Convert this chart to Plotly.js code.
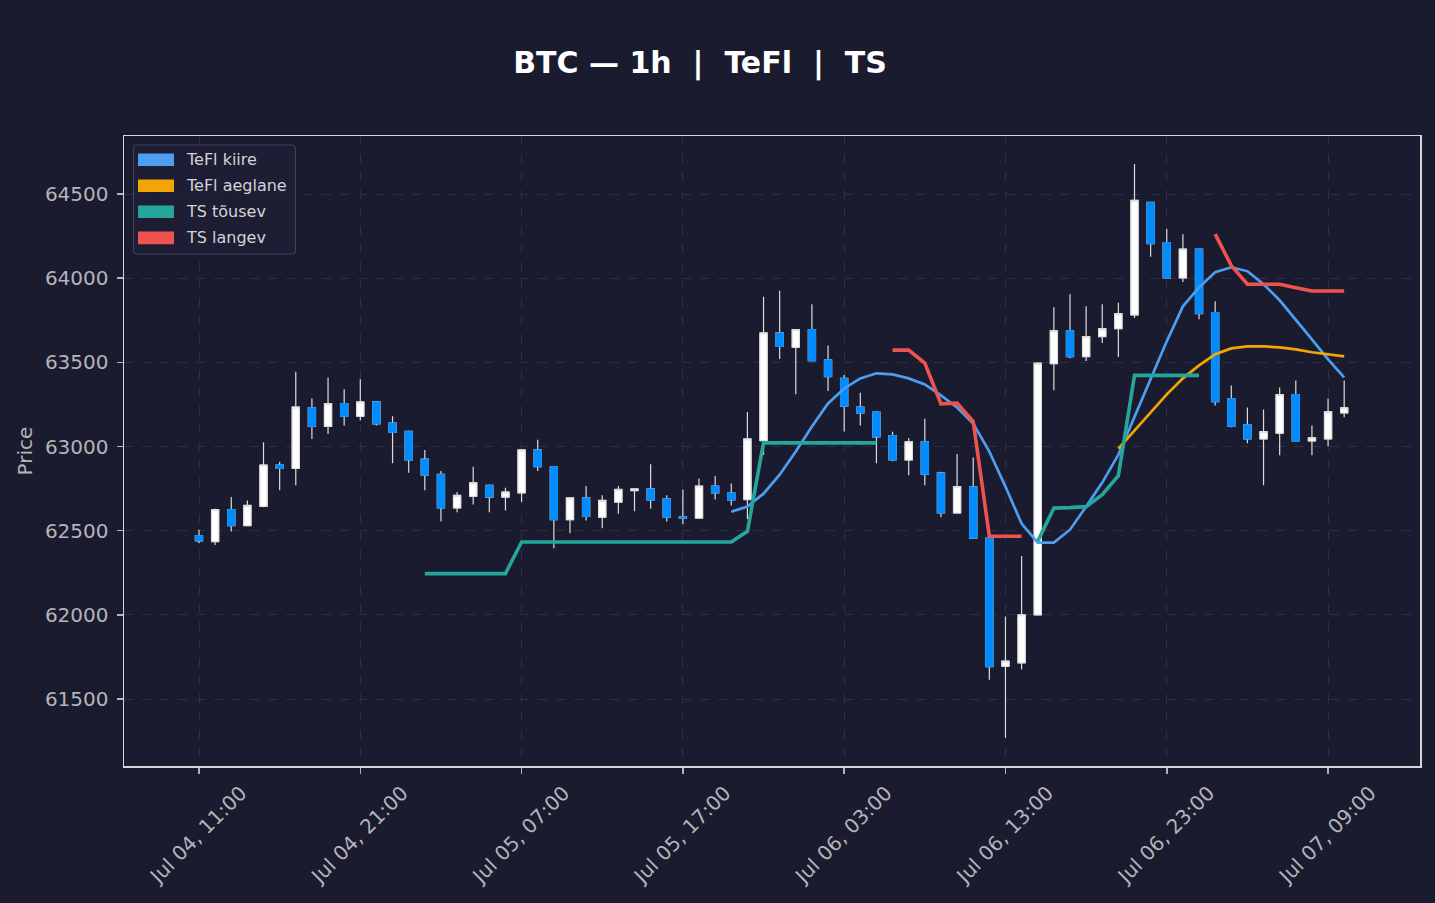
<!DOCTYPE html>
<html>
<head>
<meta charset="utf-8">
<script src="https://cdn.plot.ly/plotly-3.0.1.min.js"></script>
<style>
  html, body { margin: 0; padding: 0; background: #1a1b2e; }
  #chart { width: 1435px; height: 903px; }
</style>
</head>
<body>
<div id="chart"></div>
<script>
// ---- data (hourly candles, Jul 04 11:00 -> Jul 07 10:00) ----
const startTime = '2024-07-04T11:00:00Z';
const candleCount = 72;

const openP = [
  62470, 62435, 62625, 62530, 62645, 62890, 62870, 63230, 63120, 63255,
  63180, 63265, 63140, 63090, 62925, 62835, 62635, 62705, 62770, 62700,
  62725, 62980, 62880, 62565, 62695, 62580, 62670, 62738, 62748, 62690,
  62582, 62575, 62765, 62725, 62685, 63035, 63675, 63590, 63695, 63515,
  63405, 63235, 63205, 63065, 62920, 63028, 62843, 62605, 62760, 62456,
  61695, 61715, 62000, 63492, 63688, 63534, 63653, 63700, 63782, 64451,
  64212, 64002, 64173, 63796, 63284, 63129, 63045, 63079, 63309, 63033,
  63045, 63200
];
const highP = [
  62505, 62630, 62700, 62680, 63025, 62910, 63445, 63285, 63410, 63340,
  63400, 63268, 63180, 63095, 62980, 62855, 62730, 62880, 62775, 62755,
  62985, 63040, 62880, 62695, 62765, 62710, 62765, 62750, 62895, 62710,
  62745, 62810, 62825, 62780, 63205, 63890, 63925, 63695, 63845, 63600,
  63425, 63320, 63210, 63088, 63050, 63165, 62850, 62955, 62935, 62456,
  61990, 62350, 63500, 63827, 63905, 63833, 63845, 63855, 64678, 64455,
  64292, 64262, 64175, 63863, 63363, 63232, 63220, 63351, 63393, 63125,
  63286, 63393
];
const lowP = [
  62425, 62415, 62495, 62528, 62640, 62740, 62770, 63045, 63075, 63125,
  63155, 63125, 62900, 62845, 62740, 62555, 62610, 62655, 62610, 62620,
  62670, 62855, 62395, 62485, 62560, 62515, 62600, 62615, 62630, 62555,
  62538, 62573, 62685, 62650, 62570, 62950, 63520, 63310, 63505, 63330,
  63090, 63125, 62900, 62912, 62830, 62770, 62580, 62605, 62456, 61615,
  61270, 61675, 62000, 63335, 63525, 63508, 63615, 63532, 63764, 64127,
  64000, 63978, 63756, 63244, 63115, 63020, 62770, 62948, 63030, 62948,
  63002, 63174
];
const closeP = [
  62440, 62625, 62530, 62650, 62890, 62870, 63235, 63120, 63255, 63180,
  63265, 63135, 63085, 62920, 62830, 62635, 62710, 62785, 62700, 62730,
  62980, 62880, 62565, 62695, 62585, 62680, 62745, 62748, 62683, 62580,
  62575, 62765, 62725, 62683, 63045, 63675, 63595, 63695, 63510, 63415,
  63240, 63200, 63058, 62920, 63028, 62835, 62605, 62762, 62456, 61692,
  61725, 62000, 63495, 63688, 63534, 63653, 63700, 63790, 64463, 64205,
  64002, 64173, 63790, 63266, 63121, 63045, 63089, 63309, 63033, 63052,
  63206, 63230
];

const N = null;
const tefiFast = [
  N, N, N, N, N, N, N, N, N, N, N, N, N, N, N, N, N, N, N, N,
  N, N, N, N, N, N, N, N, N, N, N, N, N, 62613, 62643, 62720, 62833, 62970, 63119, 63256,
  63345, 63405, 63435, 63429, 63405, 63369, 63304, 63232, 63137, 62970,
  62762, 62542, 62429, 62429, 62506, 62643, 62786, 62952, 63179, 63399,
  63625, 63833, 63946, 64036, 64065, 64042, 63964, 63869, 63756, 63637,
  63518, 63411
];
const tefiSlow = [
  N, N, N, N, N, N, N, N, N, N, N, N, N, N, N, N, N, N, N, N,
  N, N, N, N, N, N, N, N, N, N, N, N, N, N, N, N, N, N, N, N,
  N, N, N, N, N, N, N, N, N, N, N, N, N, N, N, N, N, 62988, 63095, 63202,
  63310, 63405, 63482, 63548, 63583, 63595, 63595, 63589, 63577, 63560,
  63548, 63536
];
const tsRising = [
  N, N, N, N, N, N, N, N, N, N, N, N, N, N, 62245, 62245, 62245, 62245, 62245, 62245,
  62433, 62433, 62433, 62433, 62433, 62433, 62433, 62433, 62433, 62433,
  62433, 62433, 62433, 62433, 62496, 63022, 63022, 63022, 63022, 63022,
  63022, 63022, 63022, N, N, N, N, N, N, N,
  N, N, 62438, 62634, 62637, 62643, 62714, 62827, 63423, 63423,
  63423, 63423, 63423, N, N, N, N, N, N, N,
  N, N
];
const tsFalling = [
  N, N, N, N, N, N, N, N, N, N, N, N, N, N, N, N, N, N, N, N,
  N, N, N, N, N, N, N, N, N, N, N, N, N, N, N, N, N, N, N, N,
  N, N, N, 63573, 63573, 63496, 63254, 63258, 63149, 62467,
  62467, 62467, N, N, N, N, N, N, N, N,
  N, N, N, 64262, 64075, 63964, 63964, 63964, 63944, 63924,
  63924, 63924
];

const tickTimes = ['2024-07-04 11:00', '2024-07-04 21:00', '2024-07-05 07:00', '2024-07-05 17:00',
                   '2024-07-06 03:00', '2024-07-06 13:00', '2024-07-06 23:00', '2024-07-07 09:00'];
const tickLabels = ['Jul 04, 11:00', 'Jul 04, 21:00', 'Jul 05, 07:00', 'Jul 05, 17:00',
                    'Jul 06, 03:00', 'Jul 06, 13:00', 'Jul 06, 23:00', 'Jul 07, 09:00'];
const yTicks = [61500, 62000, 62500, 63000, 63500, 64000, 64500];

const seriesNames = ['TeFl kiire', 'TeFl aeglane', 'TS tõusev', 'TS langev'];
const seriesColors = ['#4d9df0', '#f2a603', '#26a69a', '#ef5350'];

// ---- build time axis ----
function fmt(d) {
  const p = n => String(n).padStart(2, '0');
  return d.getUTCFullYear() + '-' + p(d.getUTCMonth() + 1) + '-' + p(d.getUTCDate()) + ' ' +
         p(d.getUTCHours()) + ':' + p(d.getUTCMinutes());
}
const t0 = new Date(startTime).getTime();
const times = [];
for (let i = 0; i < candleCount; i++) times.push(fmt(new Date(t0 + i * 3600000)));

const bodyHigh = openP.map((o, i) => Math.max(o, closeP[i]));
const bodyLow = openP.map((o, i) => Math.min(o, closeP[i]));

const UP = '#ffffff', UPLINE = '#dcdcdc', DOWN = '#008cff', WICK = '#dcdcdc';

const traces = [
  {
    type: 'candlestick', x: times, open: openP, high: highP, low: lowP, close: closeP,
    increasing: { line: { color: UPLINE, width: 1.2 }, fillcolor: UP },
    decreasing: { line: { color: WICK, width: 1.2 }, fillcolor: DOWN },
    whiskerwidth: 0, showlegend: false, hoverinfo: 'skip', name: 'BTC'
  },
  {
    type: 'candlestick', x: times, open: openP, high: bodyHigh, low: bodyLow, close: closeP,
    increasing: { line: { color: UPLINE, width: 1 }, fillcolor: UP },
    decreasing: { line: { color: DOWN, width: 1 }, fillcolor: DOWN },
    whiskerwidth: 0, showlegend: false, hoverinfo: 'skip', name: 'body'
  },
  { type: 'scatter', mode: 'lines', x: times, y: tefiFast, name: seriesNames[0],
    line: { color: seriesColors[0], width: 2.7 }, connectgaps: false, showlegend: false },
  { type: 'scatter', mode: 'lines', x: times, y: tefiSlow, name: seriesNames[1],
    line: { color: seriesColors[1], width: 2.7 }, connectgaps: false, showlegend: false },
  { type: 'scatter', mode: 'lines', x: times, y: tsRising, name: seriesNames[2],
    line: { color: seriesColors[2], width: 3.6 }, connectgaps: false, showlegend: false },
  { type: 'scatter', mode: 'lines', x: times, y: tsFalling, name: seriesNames[3],
    line: { color: seriesColors[3], width: 3.6 }, connectgaps: false, showlegend: false }
];

// ---- custom legend (patches + labels) ----
const W = 1435, H = 903, ML = 124, MR = 15, MT = 136, MB = 137;
const PW = W - ML - MR, PH = H - MT - MB;
const px = v => (v - ML) / PW;
const py = v => (H - MB - v) / PH;

function roundRectPath(x0, y0, x1, y1, r) {
  const rx = r / PW, ry = r / PH;
  const X0 = px(x0), X1 = px(x1), Y0 = py(y0), Y1 = py(y1); // Y0 top (larger)
  return `M${X0 + rx},${Y0} L${X1 - rx},${Y0} Q${X1},${Y0} ${X1},${Y0 - ry} ` +
         `L${X1},${Y1 + ry} Q${X1},${Y1} ${X1 - rx},${Y1} L${X0 + rx},${Y1} ` +
         `Q${X0},${Y1} ${X0},${Y1 + ry} L${X0},${Y0 - ry} Q${X0},${Y0} ${X0 + rx},${Y0} Z`;
}

const shapes = [{
  type: 'path', xref: 'paper', yref: 'paper', path: roundRectPath(133.5, 145, 295.5, 254, 4),
  fillcolor: 'rgba(30,31,52,0.9)', line: { color: '#3e3f62', width: 1.2 }, layer: 'above'
}];
const annotations = [];
const rowY = [159.7, 185.7, 211.7, 237.9];
seriesNames.forEach((nm, k) => {
  shapes.push({
    type: 'rect', xref: 'paper', yref: 'paper',
    x0: px(138), x1: px(174), y0: py(rowY[k] + 6.3), y1: py(rowY[k] - 6.3),
    fillcolor: seriesColors[k], line: { width: 0 }, layer: 'above'
  });
  annotations.push({
    xref: 'paper', yref: 'paper', x: px(183.5), y: py(rowY[k]), xanchor: 'left', yanchor: 'middle',
    text: nm, showarrow: false, font: { family: 'DejaVu Sans', size: 16, color: '#d2d2d8' }
  });
});

const GRID = '#2c2e4c', AX = '#d6d6d6', TICKC = '#b4b4bc';

const layout = {
  width: W, height: H,
  paper_bgcolor: '#1a1b2e', plot_bgcolor: '#1a1b2e',
  margin: { l: ML, r: MR, t: MT, b: MB, pad: 0 },
  font: { family: 'DejaVu Sans', color: TICKC },
  title: {
    text: 'BTC — 1h \u00a0|\u00a0 TeFl \u00a0|\u00a0 TS',
    font: { family: 'DejaVu Sans', size: 30, color: '#ffffff', weight: 'bold' },
    x: 700 / W, xanchor: 'center', xref: 'container',
    y: 1 - 62 / H, yanchor: 'middle', yref: 'container'
  },
  showlegend: false,
  boxgap: 0.36,
  xaxis: {
    type: 'date', range: ['2024-07-04 06:21', '2024-07-07 14:42'],
    rangeslider: { visible: false },
    tickmode: 'array', tickvals: tickTimes, ticktext: tickLabels,
    tickangle: -45, ticklabelshift: 42, ticklabelstandoff: 0,
    tickfont: { family: 'DejaVu Sans', size: 20, color: TICKC },
    ticks: 'outside', ticklen: 6, tickwidth: 1.5, tickcolor: TICKC,
    showgrid: true, gridcolor: GRID, griddash: 'dash', gridwidth: 1,
    showline: true, linecolor: AX, linewidth: 1.5, mirror: true,
    zeroline: false, automargin: false, fixedrange: true
  },
  yaxis: {
    range: [61102, 64845],
    tickmode: 'array', tickvals: yTicks, ticktext: yTicks.map(String),
    tickfont: { family: 'DejaVu Sans', size: 20, color: TICKC },
    ticks: 'outside', ticklen: 6, tickwidth: 1.5, tickcolor: TICKC,
    ticklabelstandoff: 4,
    showgrid: true, gridcolor: GRID, griddash: 'dash', gridwidth: 1,
    showline: true, linecolor: AX, linewidth: 1.5, mirror: true,
    zeroline: false, automargin: false, fixedrange: true,
    title: { text: 'Price', font: { family: 'DejaVu Sans', size: 20, color: TICKC }, standoff: 7 }
  },
  shapes: shapes,
  annotations: annotations
};

Plotly.newPlot('chart', traces, layout, { staticPlot: true, displayModeBar: false });
</script>
</body>
</html>
